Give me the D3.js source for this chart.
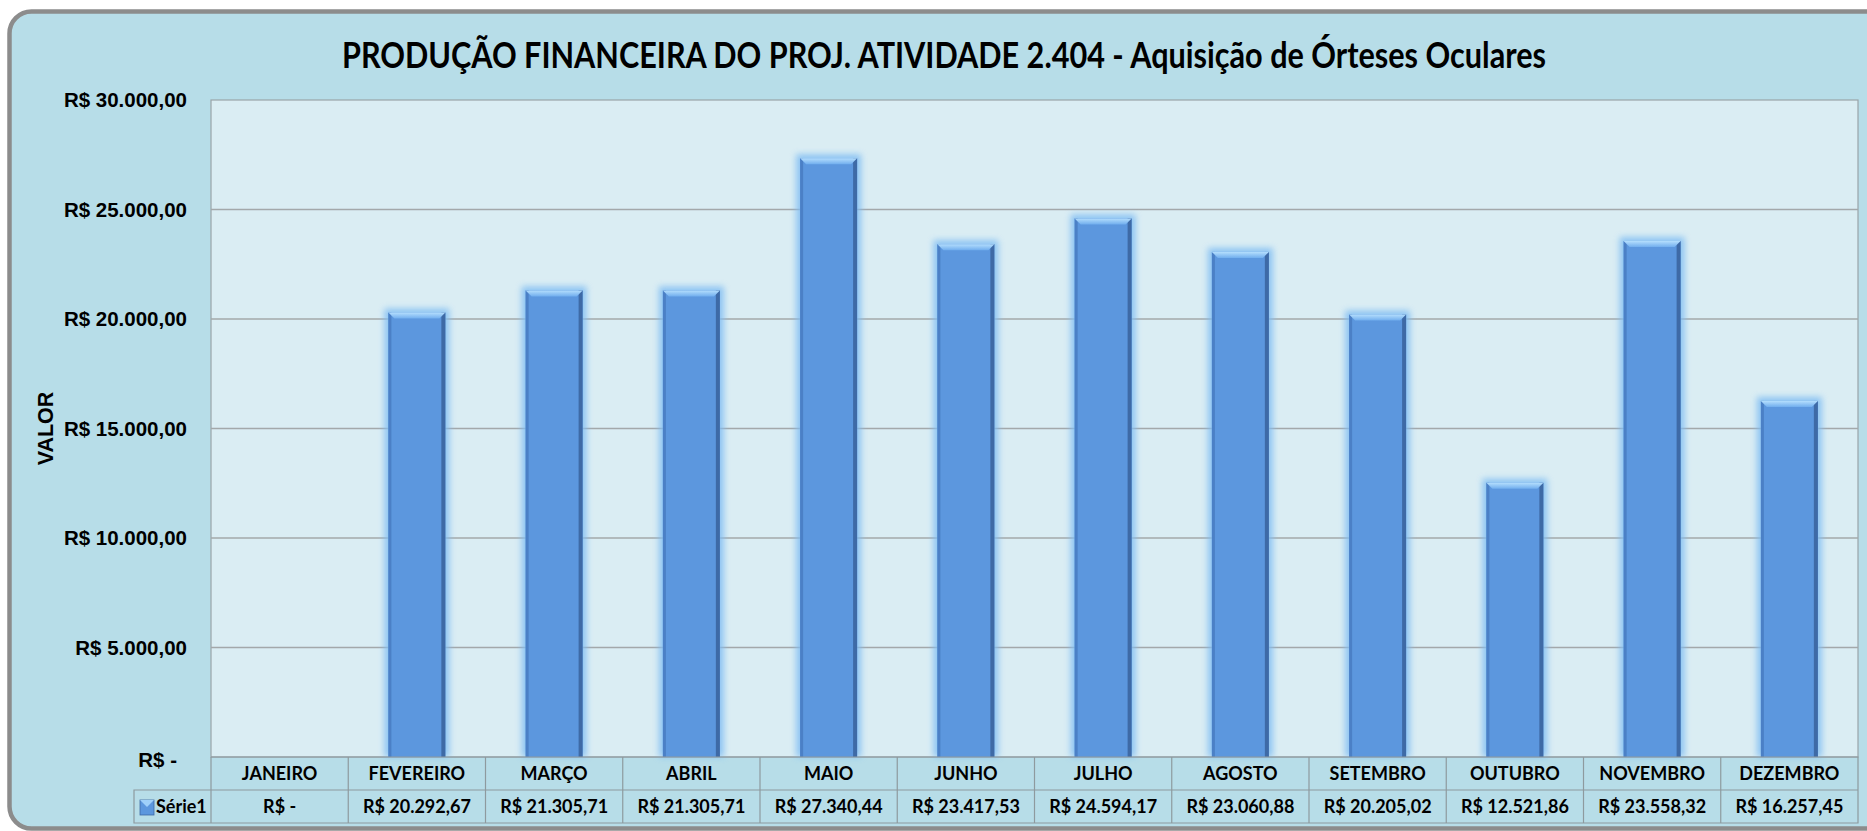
<!DOCTYPE html>
<html>
<head>
<meta charset="utf-8">
<script src="https://cdn.jsdelivr.net/npm/d3@7"></script>
<style>
  html, body { margin: 0; background: #fff; overflow: hidden; }
  svg { display: block; }
  .title { font-family: Lato, sans-serif; font-weight: 700; font-size: 36px; fill: #000; text-anchor: middle; }
  .y-title { font-family: 'Liberation Sans', Arial, sans-serif; font-weight: 700; font-size: 21.5px; text-anchor: middle; }
  .y-axis text { font-family: 'Liberation Sans', Arial, sans-serif; font-weight: 700; font-size: 20.5px; fill: #000; }
  .cell { font-family: Lato, sans-serif; font-weight: 700; font-size: 18px; fill: #000; text-anchor: middle; }
  .grid { stroke: #a3a8aa; stroke-width: 1.5; }
  .table-line { stroke: #8e9a9e; stroke-width: 1.2; fill: none; }
</style>
</head>
<body>
<svg class="chart"></svg>
<script>
const chartTitle = 'PRODUÇÃO FINANCEIRA DO PROJ. ATIVIDADE 2.404 - Aquisição de Órteses Oculares';
const yTitle = 'VALOR';
const seriesName = 'Série1';
const months = ['JANEIRO', 'FEVEREIRO', 'MARÇO', 'ABRIL', 'MAIO', 'JUNHO', 'JULHO',
  'AGOSTO', 'SETEMBRO', 'OUTUBRO', 'NOVEMBRO', 'DEZEMBRO'];
const values = [0, 20292.67, 21305.71, 21305.71, 27340.44, 23417.53, 24594.17,
  23060.88, 20205.02, 12521.86, 23558.32, 16257.45];
const yTicks = [0, 5000, 10000, 15000, 20000, 25000, 30000];

const brl = d3.formatLocale({ decimal: ',', thousands: '.', grouping: [3], currency: ['R$ ', ''] });
const money = v => (v === 0 ? 'R$ -' : brl.format('$,.2f')(v));

const view = { width: 1867, height: 831 };
const plot = { left: 211, top: 100, right: 1858, bottom: 757 };
const rowHeight = 33;
const legendLeft = 134;

const svg = d3.select('.chart').attr('width', view.width).attr('height', view.height);

const drawFrame = () => {
  // the frame runs past the right edge of the picture
  svg.append('rect')
    .attr('x', 9.5).attr('y', 11.5)
    .attr('width', 1900).attr('height', 817)
    .attr('rx', 22)
    .attr('fill', '#b7dde8')
    .attr('stroke', '#8c8c8c')
    .attr('stroke-width', 4.5);

  svg.append('rect')
    .attr('x', plot.left).attr('y', plot.top)
    .attr('width', plot.right - plot.left).attr('height', plot.bottom - plot.top)
    .attr('fill', '#daedf3')
    .attr('stroke', '#9aa4a8')
    .attr('stroke-width', 1.2);
};

const drawLabels = () => {
  svg.append('text')
    .classed('title', true)
    .attr('x', 944).attr('y', 68)
    .attr('textLength', 1204)
    .attr('lengthAdjust', 'spacingAndGlyphs')
    .text(chartTitle);

  svg.append('text')
    .classed('y-title', true)
    .attr('transform', `translate(53, ${(plot.top + plot.bottom) / 2}) rotate(-90)`)
    .text(yTitle);
};

const createDefs = () => {
  const defs = svg.append('defs');
  const glow = defs.append('filter').attr('id', 'glow')
    .attr('x', '-30%').attr('y', '-10%').attr('width', '160%').attr('height', '120%');
  glow.append('feGaussianBlur').attr('stdDeviation', 3);

  const bevel = defs.append('linearGradient').attr('id', 'bevel')
    .attr('x1', 0).attr('y1', 0).attr('x2', 0).attr('y2', 1);
  bevel.append('stop').attr('offset', '0%').attr('stop-color', '#b4defd');
  bevel.append('stop').attr('offset', '100%').attr('stop-color', '#71aeee');
};

const drawBar = (g, x, y, w, h) => {
  const b = 6;
  g.append('rect')
    .attrs({ x: x - 4, y: y - 4, width: w + 8, height: h + 4, fill: '#80bdf3', opacity: 0.85, filter: 'url(#glow)' });
  g.append('rect').attrs({ x, y, width: w, height: h, fill: '#5c97de' });
  g.append('rect').attrs({ x, y, width: 3, height: h, fill: '#4b80c6' });
  g.append('rect').attrs({ x: x + w - 4, y, width: 4, height: h, fill: '#3e6aa6' });
  g.append('polygon')
    .attr('points', [[x, y], [x + w, y], [x + w - b, y + b], [x + b, y + b]].join(' '))
    .attr('fill', 'url(#bevel)');
};

const startApp = () => {
  if (!d3.selection.prototype.attrs) {
    d3.selection.prototype.attrs = function (map) {
      Object.entries(map).forEach(([k, v]) => this.attr(k, v));
      return this;
    };
  }

  const xScale = d3.scaleBand().domain(months)
    .range([plot.left, plot.right])
    .paddingInner(0.585).paddingOuter(0.2925);
  const yScale = d3.scaleLinear().domain([0, 30000]).range([plot.bottom, plot.top]);
  const step = xScale.step();

  drawFrame();
  createDefs();
  drawLabels();

  svg.append('g').selectAll('line')
    .data(yTicks.filter(t => t > 0 && t < 30000))
    .join('line')
    .classed('grid', true)
    .attrs({ x1: plot.left, x2: plot.right })
    .attr('y1', d => yScale(d)).attr('y2', d => yScale(d));

  const yAxis = d3.axisLeft(yScale)
    .tickValues(yTicks)
    .tickSize(0)
    .tickPadding(24)
    .tickFormat(money);
  const yAxisG = svg.append('g').classed('y-axis', true)
    .attr('transform', `translate(${plot.left}, 0)`)
    .call(yAxis);
  yAxisG.select('.domain').remove();
  yAxisG.selectAll('.tick').filter(d => d === 0).select('text').attr('x', -34).attr('dy', '0.45em');

  const barsG = svg.append('g');
  months.forEach((m, i) => {
    if (values[i] > 0) {
      const y = yScale(values[i]);
      drawBar(barsG, xScale(m), y, xScale.bandwidth(), plot.bottom - y);
    }
  });

  // data table under the plot
  const table = svg.append('g');
  const row1 = plot.bottom;
  const row2 = plot.bottom + rowHeight;
  const row3 = plot.bottom + rowHeight * 2;
  table.append('path').classed('table-line', true)
    .attr('d', `M${plot.left},${row1}H${plot.right}V${row3}H${legendLeft}V${row2}H${plot.right}`
      + `M${plot.left},${row1}V${row3}`);
  months.forEach((m, i) => {
    const x0 = xScale(m) - (step - xScale.bandwidth()) / 2;
    if (i > 0) {
      table.append('line').classed('table-line', true).attrs({ x1: x0, x2: x0, y1: row1, y2: row3 });
    }
    table.append('text').classed('cell', true)
      .attr('x', x0 + step / 2).attr('y', (row1 + row2) / 2).attr('dy', '0.38em')
      .text(m);
    table.append('text').classed('cell', true)
      .attr('x', x0 + step / 2).attr('y', (row2 + row3) / 2).attr('dy', '0.38em')
      .text(money(values[i]));
  });

  const key = table.append('g').attr('transform', `translate(140, ${row2 + 10})`);
  key.append('rect').attrs({ width: 14, height: 15, fill: '#5c97de', stroke: '#3e6aa6', 'stroke-width': 0.8 });
  key.append('polygon').attr('points', '0,0 14,0 7,7').attr('fill', '#9fd0fa');
  table.append('text').classed('cell', true)
    .attr('x', 156).attr('y', (row2 + row3) / 2).attr('dy', '0.38em')
    .style('text-anchor', 'start')
    .text(seriesName);
};

window.onload = startApp;
</script>
</body>
</html>
